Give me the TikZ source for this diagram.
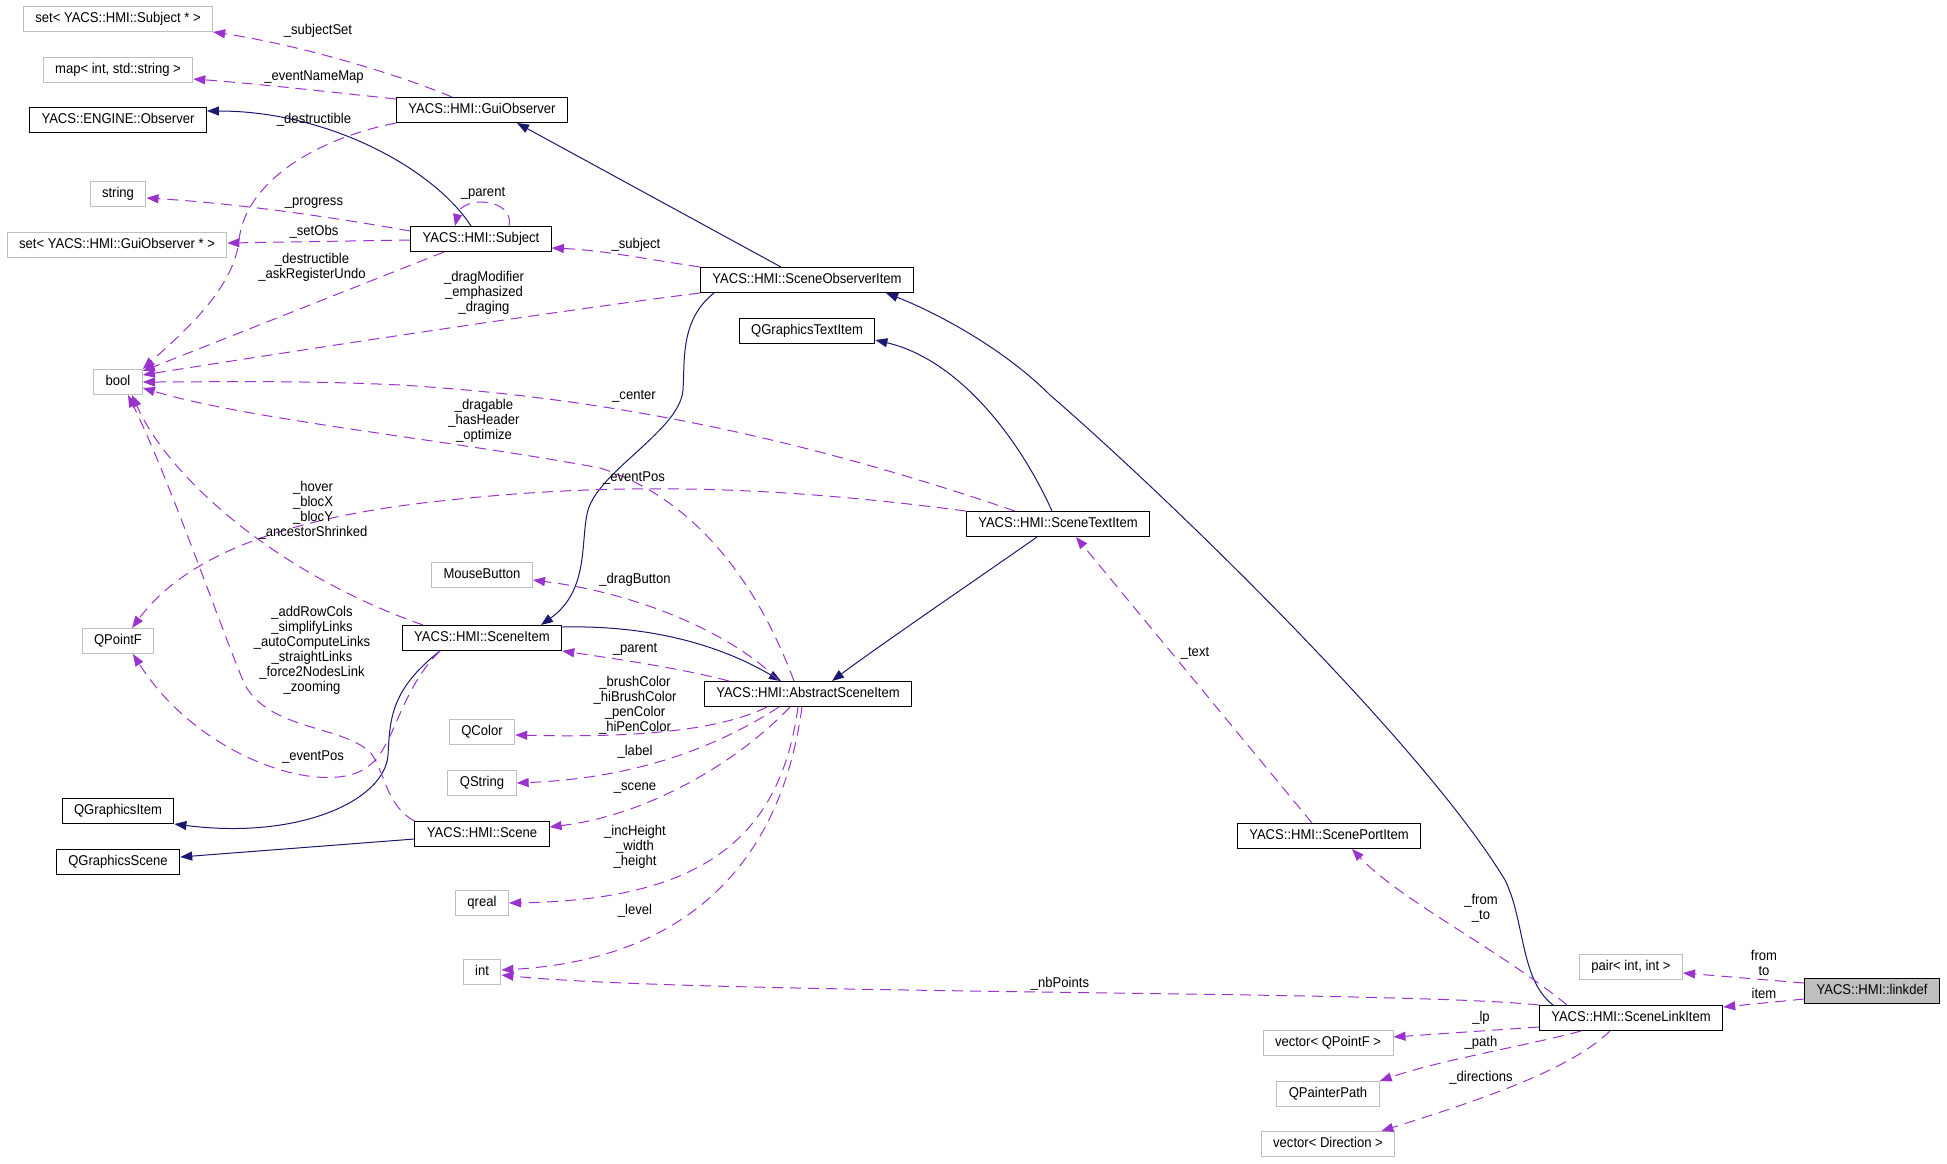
\documentclass[tikz,border=0pt]{standalone}
\usepackage{fontspec}
\setmainfont{Liberation Sans}[FakeStretch=0.92]
\usepackage{tikz}
\usetikzlibrary{arrows.meta}
\definecolor{colorInherit}{HTML}{191970}
\definecolor{colorUsage}{HTML}{9A32CD}
\definecolor{grayBorder}{HTML}{BFBFBF}
\definecolor{grayFocus}{HTML}{BFBFBF}
\newcommand{\doxyfont}{\fontsize{14.2pt}{15pt}\selectfont}

\begin{document}
\begin{tikzpicture}[
        x=1pt, y=-1pt,
        cls/.style={draw=black, line width=1pt, fill=white, inner xsep=12pt, inner ysep=0pt,
            minimum height=25pt, text height=10pt, text depth=3pt, font=\doxyfont},
        ext/.style={cls, draw=grayBorder},
        focus/.style={cls, fill=grayFocus},
        inh/.style={-{Triangle[length=12pt,width=9pt]}, colorInherit, line width=1pt},
        rel/.style={-{Triangle[length=12pt,width=9pt]}, colorUsage, line width=1pt,
            dash pattern=on 11pt off 7pt},
        lbl/.style={font=\doxyfont, align=center, inner sep=0pt}
    ]
        \useasboundingbox (0,0) rectangle (1947,1163);

        \node[ext] (setSubj) at (118,19) {set< YACS::HMI::Subject * >};
        \node[ext] (mapIntStr) at (118,70) {map< int, std::string >};
        \node[cls] (engObs) at (118,120) {YACS::ENGINE::Observer};
        \node[ext] (strType) at (118,194) {string};
        \node[ext] (setGuiObs) at (117,245) {set< YACS::HMI::GuiObserver * >};
        \node[ext] (boolType) at (118,382) {bool};
        \node[ext] (qPointF) at (118,641) {QPointF};
        \node[cls] (qGraphicsItem) at (118,811) {QGraphicsItem};
        \node[cls] (qGraphicsScene) at (118,862) {QGraphicsScene};
        \node[cls] (guiObs) at (482,110) {YACS::HMI::GuiObserver};
        \node[cls] (subject) at (481,239) {YACS::HMI::Subject};
        \node[ext] (mouseButton) at (482,575) {MouseButton};
        \node[cls] (sceneItem) at (482,638) {YACS::HMI::SceneItem};
        \node[ext] (qColor) at (482,732) {QColor};
        \node[ext] (qString) at (482,783) {QString};
        \node[cls] (scene) at (482,834) {YACS::HMI::Scene};
        \node[ext] (qreal) at (482,903) {qreal};
        \node[ext] (intType) at (482,972) {int};
        \node[cls] (sceneObsItem) at (807,280) {YACS::HMI::SceneObserverItem};
        \node[cls] (qGraphicsTextItem) at (807,331) {QGraphicsTextItem};
        \node[cls] (absSceneItem) at (808,694) {YACS::HMI::AbstractSceneItem};
        \node[cls] (sceneTextItem) at (1058,524) {YACS::HMI::SceneTextItem};
        \node[cls] (scenePortItem) at (1329,836) {YACS::HMI::ScenePortItem};
        \node[cls] (sceneLinkItem) at (1631,1018) {YACS::HMI::SceneLinkItem};
        \node[ext] (vecQPointF) at (1328,1043) {vector< QPointF >};
        \node[ext] (qPainterPath) at (1328,1094) {QPainterPath};
        \node[ext] (vecDirection) at (1328,1144) {vector< Direction >};
        \node[ext] (pairIntInt) at (1631,967) {pair< int, int >};
        \node[focus] (linkdef) at (1872,991) {YACS::HMI::linkdef};

        % inheritance
        \draw[inh] ([xshift=-10pt]subject.north) .. controls (435,170) and (330,111) .. ([yshift=9pt]engObs.east);
        \draw[inh] ([xshift=-26pt]sceneObsItem.north) -- ([xshift=35pt]guiObs.south);
        \draw[inh] ([xshift=-93pt]sceneObsItem.south) .. controls (680,320) and (685,360) .. (683,390)
            .. controls (680,430) and (600,470) .. (588,510) .. controls (580,540) and (590,590) .. ([xshift=59pt]sceneItem.north);
        \draw[inh] ([xshift=-6pt]sceneTextItem.north) .. controls (1020,440) and (960,360) .. ([yshift=-9pt]qGraphicsTextItem.east);
        \draw[inh] ([xshift=-21pt]sceneTextItem.south) .. controls (990,570) and (880,645) .. ([xshift=24pt]absSceneItem.north);
        \draw[inh] ([yshift=11pt]sceneItem.east) .. controls (650,625) and (720,645) .. ([xshift=-27pt]absSceneItem.north);
        \draw[inh] ([xshift=-42pt]sceneItem.south) .. controls (390,690) and (390,720) .. (388,755)
            .. controls (385,800) and (300,840) .. (qGraphicsItem.south east);
        \draw[inh] ([yshift=-5pt]scene.west) -- ([yshift=5pt]qGraphicsScene.east);
        \draw[inh] ([xshift=-78pt]sceneLinkItem.north) .. controls (1520,980) and (1525,920) .. (1505,880)
            .. controls (1420,740) and (1160,490) .. (1050,395) .. controls (1000,345) and (930,310) .. ([xshift=79pt]sceneObsItem.south);

        % members
        \draw[rel] ([xshift=-30pt]guiObs.north) .. controls (400,75) and (300,45) .. (setSubj.south east);
        \node[lbl] (lSubjectSet) at (318,31) {\_subjectSet};
        \draw[rel] ([yshift=11pt]guiObs.west) .. controls (330,92) and (260,84) .. ([yshift=-9pt]mapIntStr.east);
        \node[lbl] (lEventNameMap) at (314,77) {\_eventNameMap};
        \draw[rel] (guiObs.south west) .. controls (310,140) and (245,185) .. (239,240)
            .. controls (234,290) and (180,335) .. (boolType.north east);
        \node[lbl] (lDestructibleA) at (314,120) {\_destructible};
        \draw[rel] ([xshift=28pt]subject.north) .. controls (515,198) and (462,195) .. ([xshift=-26pt]subject.north);
        \node[lbl] (lParentA) at (483,193) {\_parent};
        \draw[rel] ([yshift=8pt]subject.west) .. controls (320,215) and (230,203) .. ([yshift=-4pt]strType.east);
        \node[lbl] (lProgress) at (314,203) {\_progress};
        \draw[rel] ([yshift=-1pt]subject.west) -- ([yshift=2pt]setGuiObs.east);
        \node[lbl] (lSetObs) at (314,232) {\_setObs};
        \draw[rel] ([xshift=-37pt]subject.south) -- ([yshift=11pt]boolType.east);
        \node[lbl] (lDestructibleB) at (312,267) {\_destructible\\\_askRegisterUndo};
        \draw[rel] (sceneObsItem.north west) .. controls (640,258) and (600,250) .. ([yshift=-9pt]subject.east);
        \node[lbl] (lSubject) at (636,245) {\_subject};
        \draw[rel] (sceneObsItem.south west) .. controls (550,312) and (300,350) .. ([yshift=7pt]boolType.east);
        \node[lbl] (lDragModifier) at (484,293) {\_dragModifier\\\_emphasized\\\_draging};
        \draw[rel] ([xshift=-43pt]sceneTextItem.north) .. controls (850,455) and (650,400) .. (400,385)
            .. controls (300,380) and (200,382) .. (boolType.east);
        \node[lbl] (lCenter) at (634,396) {\_center};
        \draw[rel] ([xshift=-14pt]absSceneItem.north) .. controls (760,590) and (700,500) .. (600,468)
            .. controls (450,440) and (250,420) .. ([yshift=-6pt]boolType.east);
        \node[lbl] (lDragable) at (484,421) {\_dragable\\\_hasHeader\\\_optimize};
        \draw[rel] (sceneTextItem.north west) .. controls (820,492) and (650,478) .. (450,500)
            .. controls (300,515) and (190,550) .. ([xshift=14pt]qPointF.north);
        \node[lbl] (lEventPosA) at (634,478) {\_eventPos};
        \draw[rel] ([xshift=-59pt]sceneItem.north) .. controls (280,575) and (170,480) .. ([xshift=14pt]boolType.south);
        \node[lbl] (lHover) at (313,510) {\_hover\\\_blocX\\\_blocY\\\_ancestorShrinked};
        \draw[rel] ([xshift=-29pt]absSceneItem.north) .. controls (740,640) and (650,595) .. ([yshift=-5pt]mouseButton.east);
        \node[lbl] (lDragButton) at (635,580) {\_dragButton};
        \draw[rel] ([xshift=-79pt]absSceneItem.north) .. controls (680,668) and (610,658) .. (sceneItem.south east);
        \node[lbl] (lParentB) at (635,649) {\_parent};
        \draw[rel] (scene.north west) .. controls (385,805) and (385,770) .. (370,752)
            .. controls (340,725) and (270,730) .. (245,685) .. controls (225,640) and (170,480) .. ([xshift=10pt]boolType.south);
        \node[lbl] (lAddRowCols) at (312,650) {\_addRowCols\\\_simplifyLinks\\\_autoComputeLinks\\\_straightLinks\\\_force2NodesLink\\\_zooming};
        \draw[rel] ([xshift=-42pt]sceneItem.south) .. controls (400,690) and (395,745) .. (370,765)
            .. controls (330,800) and (200,760) .. ([xshift=15pt]qPointF.south);
        \node[lbl] (lEventPosB) at (313,757) {\_eventPos};
        \draw[rel] ([xshift=-41pt]absSceneItem.south) .. controls (720,730) and (640,738) .. ([yshift=-3pt]qColor.east);
        \node[lbl] (lBrushColor) at (635,705) {\_brushColor\\\_hiBrushColor\\\_penColor\\\_hiPenColor};
        \draw[rel] ([xshift=-29pt]absSceneItem.south) .. controls (720,745) and (640,778) .. (qString.east);
        \node[lbl] (lLabel) at (635,752) {\_label};
        \draw[rel] ([xshift=-18pt]absSceneItem.south) .. controls (740,760) and (650,815) .. ([yshift=7pt]scene.east);
        \node[lbl] (lScene) at (635,788) {\_scene};
        \draw[rel] ([xshift=-10pt]absSceneItem.south) .. controls (780,840) and (700,900) .. (qreal.east);
        \node[lbl] (lIncHeight) at (635,847) {\_incHeight\\\_width\\\_height};
        \draw[rel] ([xshift=-6pt]absSceneItem.south) .. controls (780,870) and (680,960) .. ([yshift=2pt]intType.east);
        \node[lbl] (lLevel) at (635,911) {\_level};
        \draw[rel] (sceneLinkItem.north west) .. controls (1400,990) and (700,995) .. ([yshift=-3pt]intType.east);
        \node[lbl] (lNbPoints) at (1060,984) {\_nbPoints};
        \draw[rel] ([xshift=-64pt]sceneLinkItem.north) .. controls (1500,950) and (1400,900) .. ([xshift=23pt]scenePortItem.south);
        \node[lbl] (lFromTo) at (1481,908) {\_from\\\_to};
        \draw[rel] ([xshift=-17pt]scenePortItem.north) -- ([xshift=18pt]sceneTextItem.south);
        \node[lbl] (lText) at (1195,653) {\_text};
        \draw[rel] ([yshift=-9pt]sceneLinkItem.west) -- ([yshift=6pt]vecQPointF.east);
        \node[lbl] (lLp) at (1481,1018) {\_lp};
        \draw[rel] ([xshift=-50pt]sceneLinkItem.south) .. controls (1530,1045) and (1440,1060) .. (qPainterPath.north east);
        \node[lbl] (lPath) at (1481,1043) {\_path};
        \draw[rel] ([xshift=-21pt]sceneLinkItem.south) .. controls (1570,1070) and (1480,1100) .. ([xshift=-14pt]vecDirection.north east);
        \node[lbl] (lDirections) at (1481,1078) {\_directions};
        \draw[rel] ([yshift=8pt]linkdef.west) -- ([yshift=-6pt]pairIntInt.east);
        \node[lbl] (lFromToB) at (1764,963) {from\\to};
        \draw[rel] ([yshift=-8pt]linkdef.west) -- ([yshift=11pt]sceneLinkItem.east);
        \node[lbl] (lItem) at (1764,993) {item};
    \end{tikzpicture}
\end{document}
